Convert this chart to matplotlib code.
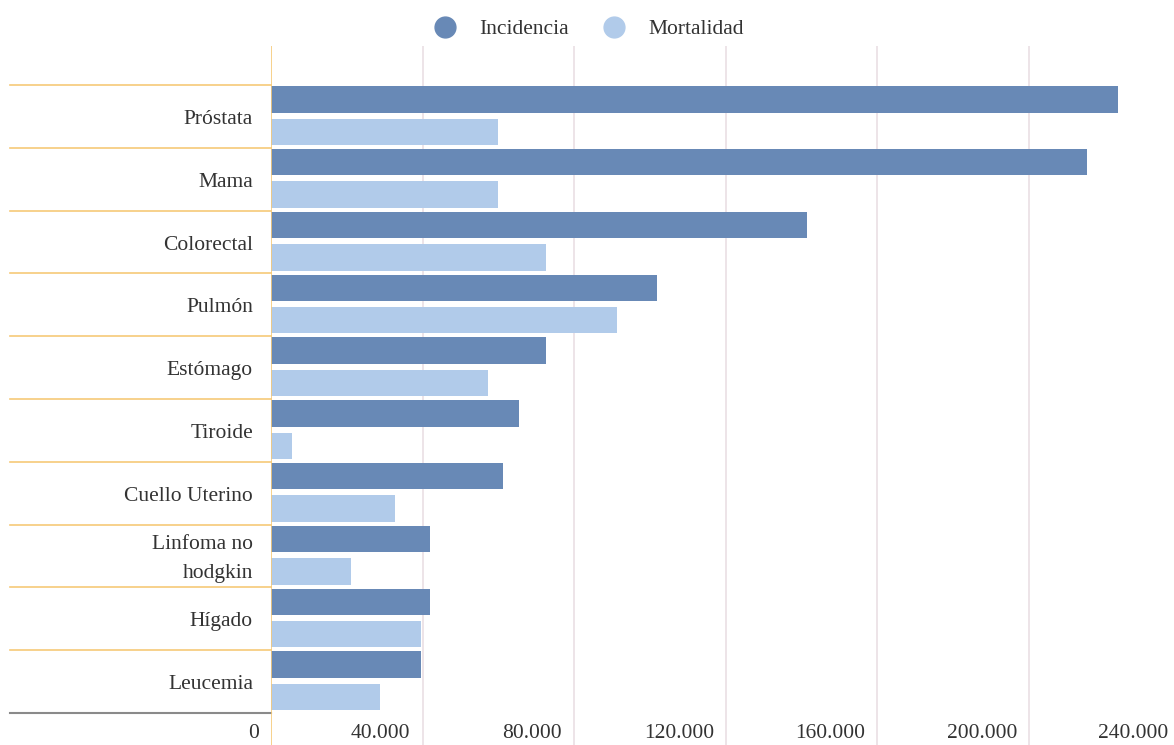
import numpy as np
import matplotlib
matplotlib.use("Agg")
import matplotlib.pyplot as plt
from matplotlib.lines import Line2D
import matplotlib.transforms as mtransforms

# data
categorias = ["Próstata", "Mama", "Colorectal", "Pulmón", "Estómago", "Tiroide",
              "Cuello Uterino", "Linfoma no\nhodgkin", "Hígado", "Leucemia"]
incidencia = [223500, 215300, 141400, 101900, 72600, 65400, 61200, 42000, 42000, 39600]
mortalidad = [60000, 60000, 72600, 91300, 57300, 5500, 32700, 21100, 39600, 28800]
ticks = [0, 40000, 80000, 120000, 160000, 200000, 240000]
tick_labels = ["0", "40.000", "80.000", "120.000", "160.000", "200.000", "240.000"]

c_inc = "#6889b6"
c_mort = "#b1cbea"
c_text = "#333333"
c_orange = "#f6c978"
c_grid = "#eadfe4"

plt.rcParams["font.family"] = ["Liberation Serif", "DejaVu Serif"]

W, H = 1174, 745
fig = plt.figure(figsize=(W / 100, H / 100), dpi=100)

# axes: x from 271 px to right edge, y from 46 px to bottom
left_px, top_px = 271, 46
ax = fig.add_axes([left_px / W, 0, 1 - left_px / W, 1 - top_px / H])

px_per_unit = 151.6 / 40000
xmax = (W - left_px) / px_per_unit
ax.set_xlim(0, xmax)

band = 62.8
ytop = -0.5 - (85 - top_px) / band
ybot = 9.5 + (H - 713) / band
ax.set_ylim(ybot, ytop)

y = np.arange(len(categorias))
h = 0.42
ax.barh(y - 0.27, incidencia, height=h, color=c_inc, zorder=3)
ax.barh(y + 0.245, mortalidad, height=h, color=c_mort, zorder=3)

# grid lines
for t in ticks[1:]:
    ax.axvline(t, color=c_grid, lw=1.2, zorder=1)
ax.axvline(0, color=c_orange, lw=1.2, zorder=4)

# band separators to the left of the axis
trans = mtransforms.blended_transform_factory(ax.transAxes, ax.transData)
x0 = -(left_px - 10) / (W - left_px)
for b in np.arange(len(categorias)) - 0.5:
    ax.plot([x0, 0], [b, b], color=c_orange, lw=1.2, transform=trans, clip_on=False)
ax.plot([x0, 0], [9.5, 9.5], color="#8a8a8a", lw=1.5, transform=trans, clip_on=False)

# category labels
off = -(18) / (W - left_px)
for yi, lab in zip(y, categorias):
    ax.text(off, yi + 3 / band, lab, transform=trans, ha="right", va="center",
            fontsize=15.5, color=c_text, linespacing=1.75)

# x tick labels
ylab = ybot - (H - 734) / band
for t, lab in zip(ticks, tick_labels):
    ax.text(t - 12 / px_per_unit, ylab, lab, ha="right", va="center",
            fontsize=15.5, color=c_text, clip_on=False)

ax.set_xticks([])
ax.set_yticks([])
for s in ax.spines.values():
    s.set_visible(False)

handles = [Line2D([], [], marker="o", ls="", markersize=15, color=c_inc),
           Line2D([], [], marker="o", ls="", markersize=15, color=c_mort)]
fig.legend(handles, ["Incidencia", "Mortalidad"], loc="center",
           bbox_to_anchor=(584 / W, 1 - 29 / H), ncol=2, frameon=False,
           fontsize=15.5, handletextpad=0.6, columnspacing=1.1, labelcolor=c_text)

fig.savefig("out.png", dpi=100)
